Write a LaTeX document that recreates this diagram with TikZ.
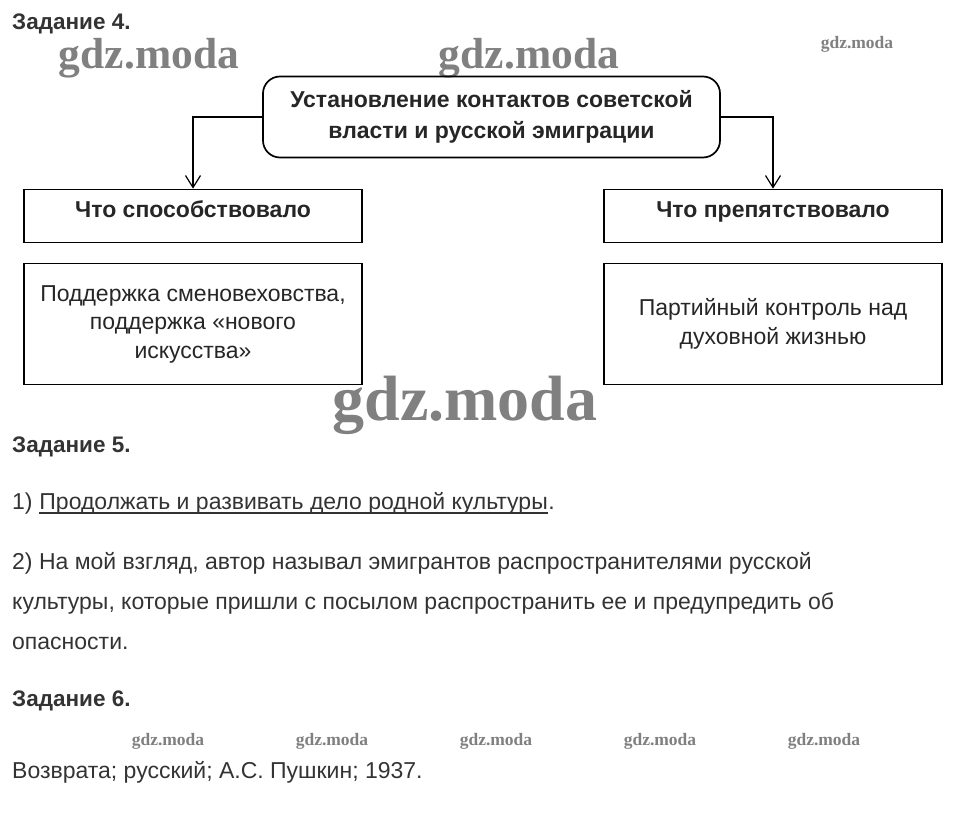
\documentclass[tikz,border=0pt]{standalone}
\usepackage{fontspec}
\setmainfont{Liberation Sans}
\newfontfamily\wmfont{Liberation Serif}
\usetikzlibrary{arrows.meta,positioning}
\begin{document}
\begin{tikzpicture}[x=1pt,y=-1pt,
    txt/.style={inner sep=0pt,anchor=base west,text=black!80,font=\fontsize{23}{28}\selectfont},
    head/.style={txt,font=\fontsize{22.5}{28}\selectfont\bfseries},
    box/.style={draw,line width=1.7pt,minimum width=338pt,align=center,text=black!85,
        font=\fontsize{23}{29}\selectfont},
    title/.style={box,minimum height=53pt,text height=16.5pt,text depth=13pt,
        font=\fontsize{23}{29}\selectfont\bfseries},
    link/.style={line width=1.2pt,-{Straight Barb[length=12pt,width=15pt]}},
    wm/.style={inner sep=0pt,text=black!50,font=\wmfont\bfseries\fontsize{#1}{#1}\selectfont}]
    \useasboundingbox (0,0) rectangle (953,826);

    % watermarks
    \node[wm=43.5] (wmA) at (149,58) {gdz.moda};
    \node[wm=43.5] (wmB) at (529,58) {gdz.moda};
    \node[wm=17.5] (wmC) at (857,44) {gdz.moda};
    \node[wm=64] (wmD) at (465,405) {gdz.moda};
    \foreach \x in {168,332,496,660,824}
        \node[wm=17.5] at (\x,741) {gdz.moda};

    % task 4
    \node[head] (t4) at (12,30) {Задание 4.};
    \node[box,rounded corners=17pt,minimum width=457pt,minimum height=81pt,
        font=\fontsize{23}{30.5}\selectfont\bfseries] (root) at (491.5,117)
        {Установление контактов советской\\власти и русской эмиграции};
    \node[title] (pro) at (193,216) {Что способствовало};
    \node[title] (con) at (773,216) {Что препятствовало};
    \node[box,minimum height=121pt,font=\fontsize{23}{28.5}\selectfont] (proA) at (193,324)
        {Поддержка сменовеховства,\\поддержка «нового\\искусства»};
    \node[box,minimum height=121pt,font=\fontsize{23}{29}\selectfont] (conA) at (773,324)
        {Партийный контроль над\\духовной жизнью};
    \draw[link] (root.west) -| (pro.north);
    \draw[link] (root.east) -| (con.north);

    % task 5
    \node[head] (t5) at (12,452) {Задание 5.};
    \node[txt] (a1) at (12,509) {1)};
    \node[txt] (a1u) at ([xshift=6.4pt]a1.base east) {Продолжать и развивать дело родной культуры};
    \node[txt] (a1e) at (a1u.base east) {.};
    \draw[line width=1.1pt,black!80] ([yshift=-4pt]a1u.base west) -- ([yshift=-4pt]a1u.base east);
    \node[txt] (a2) at (12,569) {2) На мой взгляд, автор называл эмигрантов распространителями русской};
    \node[txt] (a3) at ([yshift=-40pt]a2.base west) {культуры, которые пришли с посылом распространить ее и предупредить об};
    \node[txt] (a4) at ([yshift=-40pt]a3.base west) {опасности.};

    % task 6
    \node[head] (t6) at (12,706) {Задание 6.};
    \node[txt] (b1) at (12,778) {Возврата; русский; А.С. Пушкин; 1937.};
\end{tikzpicture}
\end{document}
